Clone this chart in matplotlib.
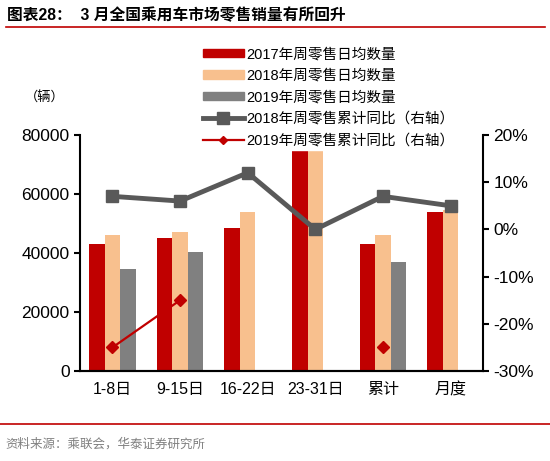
import matplotlib.pyplot as plt
import matplotlib.patches as mpatches
import matplotlib.lines as mlines
import numpy as np

plt.rcParams['font.family'] = ['Liberation Sans', 'Noto Sans CJK SC', 'DejaVu Sans']

categories = ['1-8日', '9-15日', '16-22日', '23-31日', '累计', '月度']
sales_2017 = [43000, 45000, 48500, 95000, 43000, 54000]
sales_2018 = [46000, 47000, 54000, 95000, 46000, 54500]
sales_2019 = [34500, 40300, np.nan, np.nan, 37000, np.nan]
yoy_2018 = [7.0, 6.0, 12.0, 0.0, 7.0, 5.0]
yoy_2019 = [-25.0, -15.0, np.nan, np.nan, -25.0, np.nan]

RED = '#C00000'
PEACH = '#F8C08E'
GREY = '#808080'
DARK = '#595959'

fig = plt.figure(figsize=(5.5, 4.61), dpi=100)
ax = fig.add_axes([0.1455, 0.1952, 0.7327, 0.512])
ax2 = ax.twinx()

x = np.arange(len(categories))
w = 0.23
ax.bar(x - w, sales_2017, w, color=RED, zorder=2)
ax.bar(x, sales_2018, w, color=PEACH, zorder=2)
ax.bar(x + w, sales_2019, w, color=GREY, zorder=2)

ax.set_ylim(0, 80000)
ax.set_yticks([0, 20000, 40000, 60000, 80000])
ax.set_xlim(-0.48, 5.48)
ax.set_xticks(x)
ax.set_xticklabels(categories, fontsize=11.5)
ax.tick_params(axis='x', length=0, pad=8)
ax.tick_params(axis='y', labelsize=12.5, direction='out', length=4, width=1.5)

ax2.plot(x, yoy_2018, color=DARK, lw=3.5, marker='s', ms=9, zorder=3)
ax2.plot(x, yoy_2019, color=RED, lw=1.6, marker='D', ms=6, zorder=4)
ax2.set_ylim(-30, 20)
ax2.set_yticks([-30, -20, -10, 0, 10, 20])
ax2.set_yticklabels(['%d%%' % v for v in [-30, -20, -10, 0, 10, 20]])
ax2.tick_params(axis='y', labelsize=12.5, direction='out', length=4, width=1.5)

for a in (ax, ax2):
    a.spines['top'].set_visible(False)
    for s in ('left', 'right', 'bottom'):
        a.spines[s].set_linewidth(1.5)
ax.spines['right'].set_visible(False)
ax2.spines['left'].set_visible(False)

handles = [
    mpatches.Patch(color=RED, label='2017年周零售日均数量'),
    mpatches.Patch(color=PEACH, label='2018年周零售日均数量'),
    mpatches.Patch(color=GREY, label='2019年周零售日均数量'),
    mlines.Line2D([], [], color=DARK, lw=3.5, marker='s', ms=8, label='2018年周零售累计同比（右轴）'),
    mlines.Line2D([], [], color=RED, lw=1.6, marker='D', ms=4, label='2019年周零售累计同比（右轴）'),
]
leg = fig.legend(handles=handles, loc='upper left', bbox_to_anchor=(0.35, 0.92),
                 fontsize=10.5, frameon=True, facecolor='white', edgecolor='white',
                 framealpha=1, fancybox=False, handlelength=2.8, handleheight=0.55,
                 labelspacing=0.52, borderpad=0.2, handletextpad=0.2)
leg.set_zorder(10)

fig.text(0.082, 0.787, '（辆）', fontsize=9.5, ha='center', va='center')

fig.text(0.013, 0.967, '图表28：  3 月全国乘用车市场零售销量有所回升', fontsize=11.3,
         fontweight='bold', ha='left', va='center')
fig.add_artist(mlines.Line2D([0.01, 0.99], [0.941, 0.941], color=RED, lw=1.2))
fig.add_artist(mlines.Line2D([0.0, 1.0], [0.080, 0.080], color=RED, lw=1.2))
fig.text(0.01, 0.036, '资料来源：乘联会，华泰证券研究所', fontsize=9, color='#808080',
         ha='left', va='center')

fig.savefig('out.png', dpi=100)
